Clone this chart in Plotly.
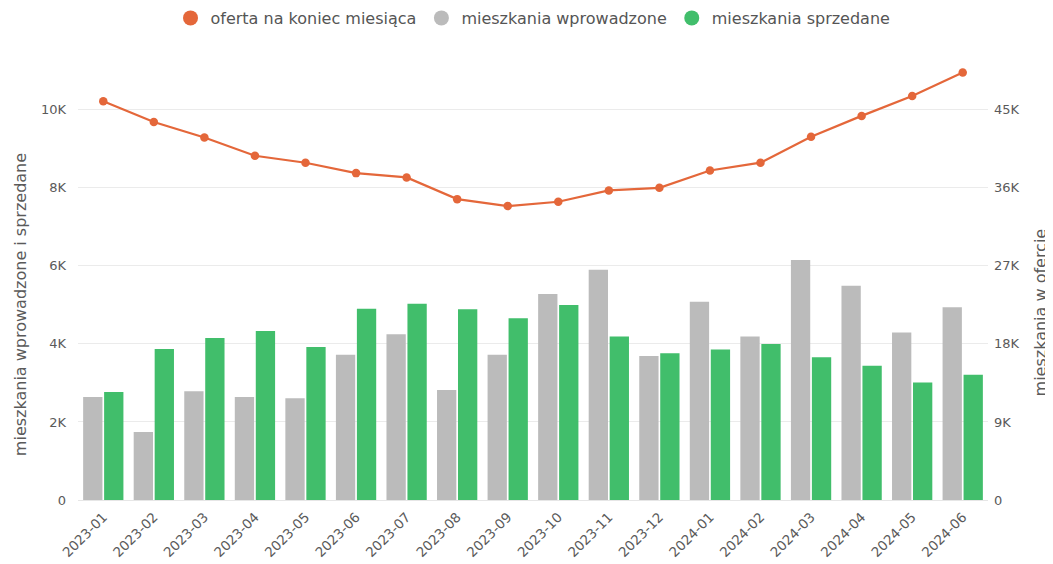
import plotly.graph_objects as go

months = ["2023-01", "2023-02", "2023-03", "2023-04", "2023-05", "2023-06",
          "2023-07", "2023-08", "2023-09", "2023-10", "2023-11", "2023-12",
          "2024-01", "2024-02", "2024-03", "2024-04", "2024-05", "2024-06"]

wprowadzone = [2640, 1740, 2790, 2640, 2610, 3720, 4250, 2820, 3720, 5280, 5900, 3690,
               5080, 4190, 6150, 5490, 4290, 4940]
sprzedane = [2770, 3870, 4150, 4330, 3920, 4900, 5030, 4890, 4660, 5000, 4190, 3760,
             3860, 4000, 3660, 3440, 3010, 3210]
oferta = [46000, 43600, 41800, 39700, 38900, 37700, 37200, 34700, 33900, 34400, 35700, 36000,
          38000, 38900, 41900, 44300, 46600, 49300]

left_ticks = [0, 2000, 4000, 6000, 8000, 10000]
left_labels = ["0", "2K", "4K", "6K", "8K", "10K"]
right_ticks = [0, 9000, 18000, 27000, 36000, 45000]
right_labels = ["0", "9K", "18K", "27K", "36K", "45K"]
left_title = "mieszkania wprowadzone i sprzedane"
right_title = "mieszkania w ofercie"

C_ORANGE = "#E4673A"
C_GRAY = "#BBBBBB"
C_GREEN = "#41BE6B"
FONT = "DejaVu Sans"
TXT = "#5A5A5A"

fig = go.Figure()
fig.add_trace(go.Bar(x=months, y=wprowadzone, name="mieszkania wprowadzone",
                     marker=dict(color=C_GRAY, line=dict(width=0)), showlegend=False))
fig.add_trace(go.Bar(x=months, y=sprzedane, name="mieszkania sprzedane",
                     marker=dict(color=C_GREEN, line=dict(width=0)), showlegend=False))
fig.add_trace(go.Scatter(x=months, y=oferta, name="oferta na koniec miesiąca", yaxis="y2",
                         mode="lines+markers", line=dict(color=C_ORANGE, width=2.2),
                         marker=dict(color=C_ORANGE, size=8.5), showlegend=False))

# legend entries as circles
for nm, col in [("oferta na koniec miesiąca", C_ORANGE),
                ("mieszkania wprowadzone", C_GRAY),
                ("mieszkania sprzedane", C_GREEN)]:
    fig.add_trace(go.Scatter(x=[None], y=[None], mode="markers", name=nm,
                             marker=dict(color=col, size=15, symbol="circle")))

fig.update_layout(
    width=1045, height=556,
    margin=dict(l=70, r=65, t=55, b=64, autoexpand=False),
    paper_bgcolor="white", plot_bgcolor="white",
    font=dict(family=FONT, size=13, color=TXT),
    barmode="group", bargap=0.17, bargroupgap=0.08,
    legend=dict(orientation="h", x=0.5, xanchor="center", y=0.982, yref="container",
                yanchor="middle", font=dict(size=16, color="#555555"), itemwidth=30,
                traceorder="normal"),
    xaxis=dict(type="category", range=[-0.5, 17.5], tickangle=-45, showgrid=False,
               showline=True, linecolor="#E6E6E6", ticks="",
               tickfont=dict(size=13.5, color=TXT), automargin=False,
               ticklabelstandoff=3),
    yaxis=dict(range=[0, 11200], tickvals=left_ticks, ticktext=left_labels,
               showgrid=True, gridcolor="#EBEBEB", zeroline=False, automargin=False,
               tickfont=dict(size=13, color=TXT), ticklabelstandoff=11),
    yaxis2=dict(range=[0, 50400], tickvals=right_ticks, ticktext=right_labels,
                overlaying="y", side="right", showgrid=False, zeroline=False,
                automargin=False,
                tickfont=dict(size=13, color=TXT), ticklabelstandoff=5),
    annotations=[
        dict(text=left_title, xref="paper", yref="paper", x=-0.0637, y=0.446,
             xanchor="center", yanchor="middle", textangle=-90, showarrow=False,
             font=dict(size=16, color=TXT)),
        dict(text=right_title, xref="paper", yref="paper", x=1.0575, y=0.430,
             xanchor="center", yanchor="middle", textangle=-90, showarrow=False,
             font=dict(size=16, color=TXT)),
    ],
)

fig.write_html("out.html")
